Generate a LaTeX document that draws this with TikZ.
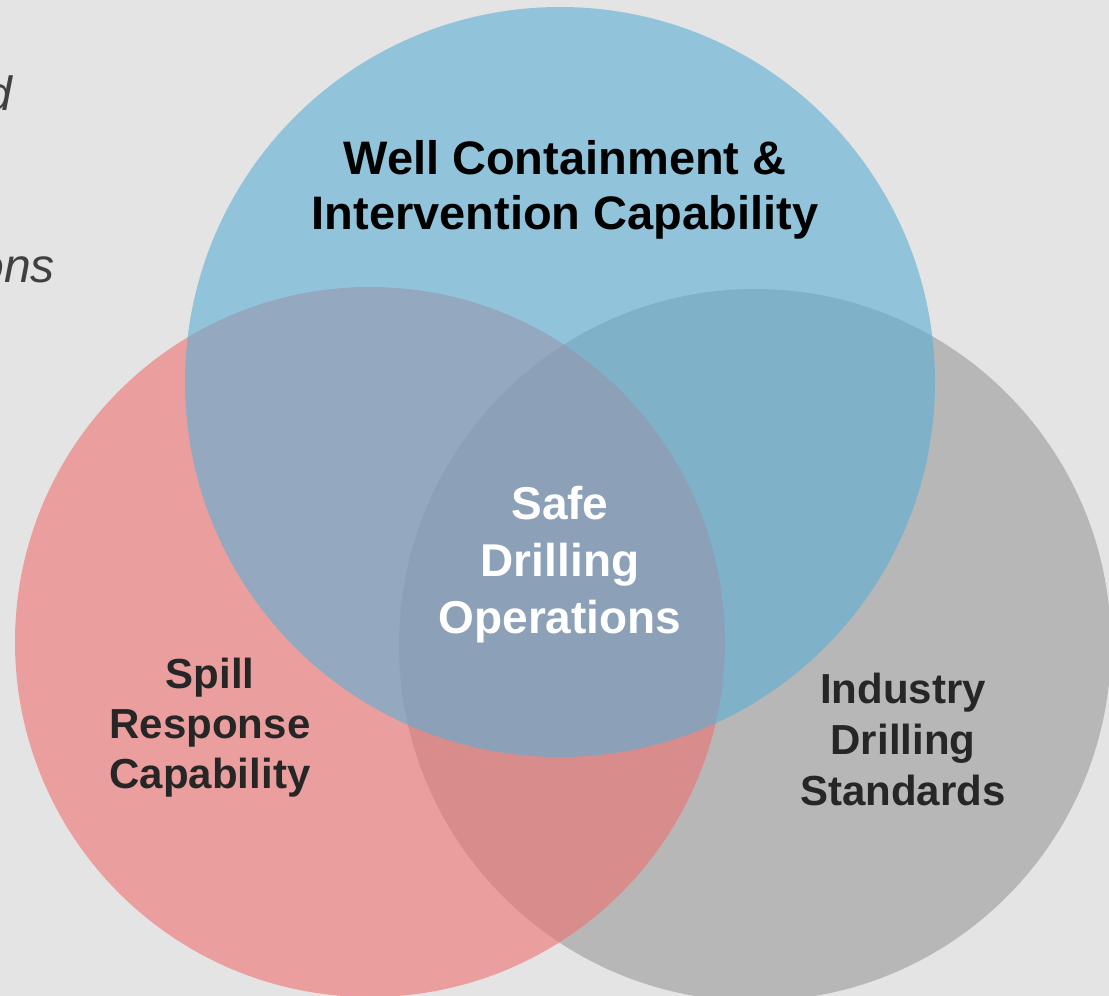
\documentclass[tikz,border=0pt]{standalone}
\usepackage{fontspec}
\setmainfont{Liberation Sans}
\definecolor{bgc}{HTML}{E4E4E4}
\definecolor{bluec}{HTML}{5AAFD6}
\definecolor{redc}{HTML}{F07070}
\definecolor{grayc}{HTML}{999999}
\definecolor{darktxt}{HTML}{262626}
\definecolor{italtxt}{HTML}{404040}
\tikzset{
  venn/.style={circle, inner sep=0pt, minimum size=#1, fill opacity=0.6, draw=none},
  lbl/.style={align=center, inner sep=0pt, font=\bfseries},
  frag/.style={inner sep=0pt, anchor=base east, text=italtxt, font=\itshape\fontsize{48pt}{56pt}\selectfont}
}
\begin{document}
\begin{tikzpicture}[x=1pt,y=-1pt]
\useasboundingbox (0,0) rectangle (1109,996);
\fill[bgc] (0,0) rectangle (1109,996);
\node[frag] (fragA) at (12,110) {d};
\node[frag] (fragB) at (55,282) {ons};
\node[venn=712pt, fill=grayc] (gray) at (755,645) {};
\node[venn=710pt, fill=redc] (red) at (370,642) {};
\node[venn=750pt, fill=bluec] (blue) at (560,382) {};
\node[lbl, font=\bfseries\fontsize{47pt}{55pt}\selectfont, text=black] (well) at (565,190) {Well Containment \&\\Intervention Capability};
\node[lbl, font=\bfseries\fontsize{46pt}{57pt}\selectfont, text=white] (safe) at (560,565) {Safe\\Drilling\\Operations};
\node[lbl, font=\bfseries\fontsize{42pt}{50pt}\selectfont, text=darktxt] (spill) at (210,728) {Spill\\Response\\Capability};
\node[lbl, font=\bfseries\fontsize{42pt}{51pt}\selectfont, text=darktxt] (ind) at (903,739) {Industry\\Drilling\\Standards};
\end{tikzpicture}
\end{document}
